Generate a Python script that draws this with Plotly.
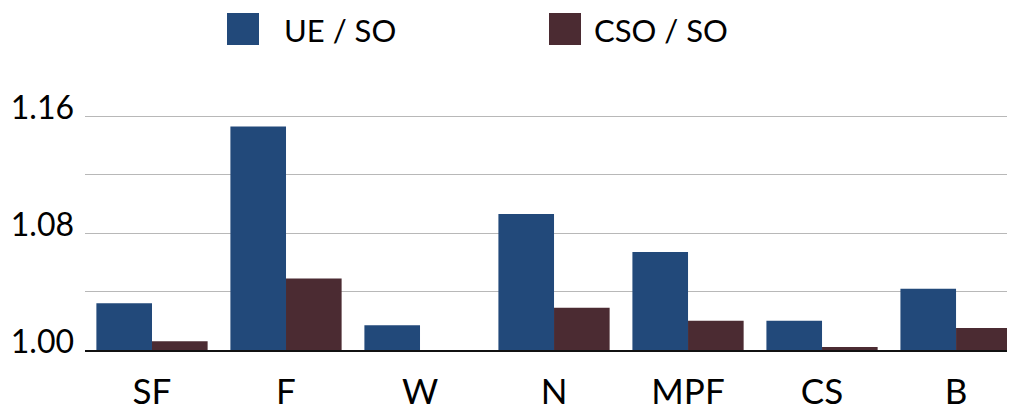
import plotly.graph_objects as go

categories = ["SF", "F", "W", "N", "MPF", "CS", "B"]
ue_so = [1.032, 1.153, 1.017, 1.093, 1.067, 1.020, 1.042]
cso_so = [1.006, 1.049, 1.000, 1.029, 1.020, 1.002, 1.015]
series_names = ["UE / SO", "CSO / SO"]
colors = ["#22497a", "#4b2b32"]
y_tickvals = [1.00, 1.04, 1.08, 1.12, 1.16]
y_ticktext = ["1.00", "", "1.08", "", "1.16"]

FONT = "Lato"
base = 1.0
OFF = 8  # page body margin offset

fig = go.Figure()
for name, vals, col in zip(series_names, [ue_so, cso_so], colors):
    fig.add_trace(go.Bar(
        x=categories, y=[v - base for v in vals], base=base,
        name=name, marker=dict(color=col, line=dict(width=0)),
        showlegend=False,
    ))

W, H = 1015, 410
pl, pt = 85 - OFF, 87 - OFF
pw, ph = 930, 263
pr = W - pl - pw
pb = H - pt - ph

fig.update_layout(
    width=W, height=H,
    margin=dict(l=pl, r=pr, t=pt, b=pb, autoexpand=False),
    paper_bgcolor="white", plot_bgcolor="white",
    barmode="group", bargap=0.17, bargroupgap=0,
    font=dict(family=FONT, color="black"),
    xaxis=dict(
        range=[-0.5, 6.44], showgrid=False, showline=True,
        linecolor="#111111", linewidth=2, ticks="",
        tickfont=dict(size=35, color="black", family=FONT),
        ticklabelstandoff=10,
    ),
    yaxis=dict(
        range=[1.0, 1.18], tickvals=y_tickvals, ticktext=y_ticktext,
        showgrid=True, gridcolor="#b8b8b8", gridwidth=1,
        zeroline=False, showline=False, ticks="",
        tickfont=dict(size=32, color="black", family=FONT),
        ticklabelstandoff=10, ticklabelshift=-8,
    ),
)

def px2paper(x, y):
    # target-image pixel -> paper coords
    fx, fy = x - OFF, y - OFF
    return (fx - pl) / pw, 1 - (fy - pt) / ph

items = [(227, 282, series_names[0], colors[0]), (549, 592, series_names[1], colors[1])]
for sqx, txtx, name, col in items:
    x0, y0 = px2paper(sqx, 13)
    x1, y1 = px2paper(sqx + 32, 45)
    fig.add_shape(type="rect", xref="paper", yref="paper",
                  x0=x0, x1=x1, y0=y1, y1=y0,
                  fillcolor=col, line=dict(width=0))
    ax, ay = px2paper(txtx, 30)
    fig.add_annotation(xref="paper", yref="paper", x=ax, y=ay,
                       text=name, showarrow=False, xanchor="left", yanchor="middle",
                       font=dict(size=31, color="black", family=FONT))

fig.write_html("out.html")
